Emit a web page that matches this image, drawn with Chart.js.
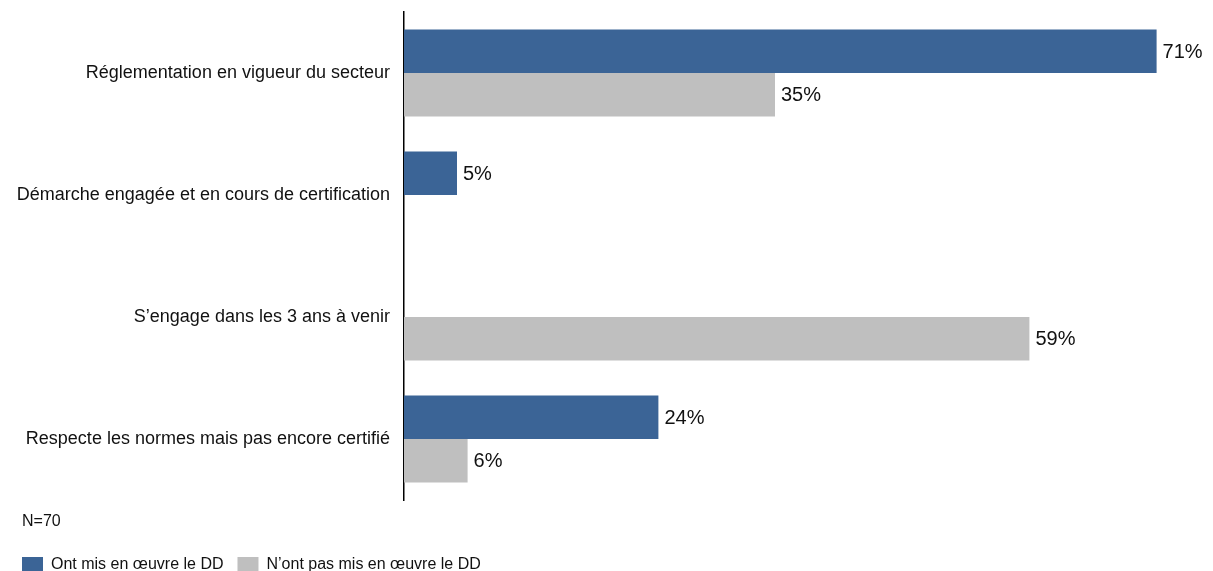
<!DOCTYPE html>
<html>
<head>
<meta charset="utf-8">
<script src="https://cdn.jsdelivr.net/npm/chart.js@4"></script>
<style>
  html, body { margin: 0; padding: 0; background: #fff; }
  #wrap { width: 1213px; height: 571px; position: relative; }
</style>
</head>
<body>
<div id="wrap"><canvas id="graphique"></canvas></div>
<script>
// Données du graphique
const categories = [
    'Réglementation en vigueur du secteur',
    'Démarche engagée et en cours de certification',
    'S\u2019engage dans les 3 ans à venir',
    'Respecte les normes mais pas encore certifié'
];
const seriesNoms = ['Ont mis en œuvre le DD', 'N\u2019ont pas mis en œuvre le DD'];
const valeursOnt = [71, 5, null, 24];
const valeursNont = [35, null, 59, 6];
const note = 'N=70';

const couleurs = ['#3b6496', '#bfbfbf'];
const police = "'Liberation Sans', Arial, sans-serif";

// Étiquettes de valeur au bout des barres
const etiquettesPlugin = {
    id: 'etiquettes',
    afterDatasetsDraw(chart) {
        const ctx = chart.ctx;
        ctx.save();
        ctx.font = '20px ' + police;
        ctx.fillStyle = '#111';
        ctx.textAlign = 'left';
        ctx.textBaseline = 'middle';
        chart.data.datasets.forEach((ds, i) => {
            const meta = chart.getDatasetMeta(i);
            meta.data.forEach((bar, j) => {
                const v = ds.data[j];
                if (v === null || v === undefined) return;
                ctx.fillText(v + '%', bar.x + 6, bar.y + 1);
            });
        });
        ctx.restore();
    }
};

// Boîte "N=70" entre le graphique et la légende
const notePlugin = {
    id: 'note',
    beforeInit(chart) {
        const boite = {
            position: 'bottom',
            weight: 500,
            fullSize: true,
            options: {},
            left: 0, top: 0, right: 0, bottom: 0, width: 0, height: 0,
            isHorizontal() { return true; },
            update(maxWidth) {
                this.width = maxWidth;
                this.height = 43;
            },
            getPadding() { return { top: 0, left: 0, right: 0, bottom: 0 }; },
            draw() {
                const ctx = chart.ctx;
                ctx.save();
                ctx.font = '16px ' + police;
                ctx.fillStyle = '#111';
                ctx.textAlign = 'left';
                ctx.textBaseline = 'middle';
                ctx.fillText(note, 22, this.top + 22);
                ctx.restore();
            }
        };
        Chart.layouts.addBox(chart, boite);
    }
};

document.addEventListener('DOMContentLoaded', () => {
    const ctx = document.getElementById('graphique');
    new Chart(ctx, {
        type: 'bar',
        data: {
            labels: categories,
            datasets: [
                { label: seriesNoms[0], data: valeursOnt, backgroundColor: couleurs[0] },
                { label: seriesNoms[1], data: valeursNont, backgroundColor: couleurs[1] }
            ]
        },
        options: {
            indexAxis: 'y',
            responsive: true,
            maintainAspectRatio: false,
            animation: false,
            categoryPercentage: 0.713,
            barPercentage: 1,
            layout: { padding: { left: 8, right: 14, top: 12, bottom: -12 } },
            scales: {
                x: { display: false, min: 0, max: 75 },
                y: {
                    grid: { display: false, drawTicks: false },
                    border: { display: true, color: '#000', width: 1.5 },
                    ticks: {
                        color: '#111',
                        font: { family: police, size: 18 },
                        padding: 14
                    },
                    afterFit(scale) {
                        scale.width = 396;
                        scale.paddingTop = 0;
                        scale.paddingBottom = 0;
                    }
                }
            },
            plugins: {
                legend: {
                    position: 'bottom',
                    align: 'start',
                    labels: {
                        boxWidth: 21,
                        boxHeight: 16,
                        color: '#111',
                        font: { family: police, size: 16 },
                        padding: 14
                    }
                },
                tooltip: { enabled: false }
            }
        },
        plugins: [etiquettesPlugin, notePlugin]
    });
});
</script>
</body>
</html>
